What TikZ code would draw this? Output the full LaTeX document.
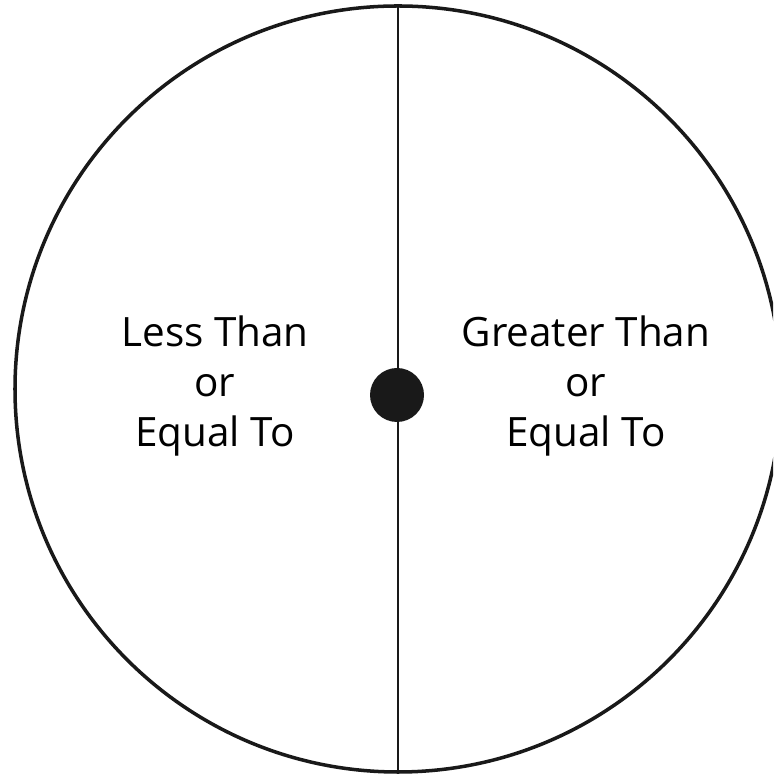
\documentclass[tikz,border=0pt]{standalone}
\usepackage{fontspec}
\setmainfont{Open Sans}
\usetikzlibrary{positioning}

\begin{document}
\begin{tikzpicture}[
  x=0.02cm, y=0.02cm,
  rim/.style={draw=black!90, line width=2pt},
  divider/.style={draw=black!90, line width=1.1pt},
  hub/.style={circle, fill=black!90, inner sep=0pt, minimum size=1.08cm},
  half/.style={align=center, font=\fontsize{23}{28.5}\selectfont},
]
\useasboundingbox (0,0) rectangle (773,776);
\clip (0,0) rectangle (773,776);

\coordinate (c) at (398,387);
\coordinate (top) at (398,770);
\coordinate (bot) at (398,4);

\draw[rim] (c) circle (383);
\draw[divider] (top) -- (bot);

\node[hub] (dot) at (397,381) {};

\node[half] (less) at (215,390) {Less Than\\or\\Equal To};
\node[half] (greater) at (586,390) {Greater Than\\or\\Equal To};

\end{tikzpicture}
\end{document}
